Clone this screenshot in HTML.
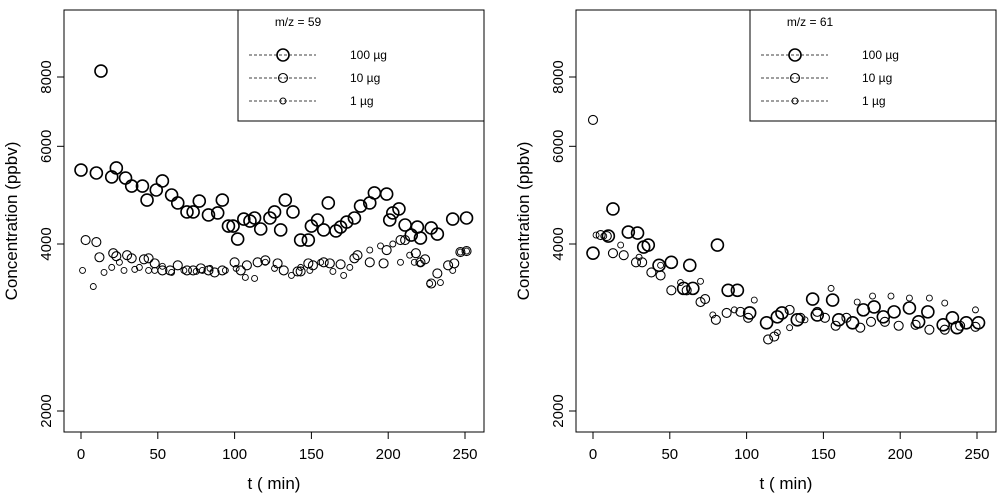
<!DOCTYPE html>
<html><head><meta charset="utf-8"><style>
body{margin:0;background:#fff;}
svg{display:block;font-family:"Liberation Sans",Arial,sans-serif;}
</style></head><body>
<svg id="chart" width="1000" height="497" viewBox="0 0 1000 497"></svg>
<script>
// ---- data ----
const tickY = [2000, 4000, 6000, 8000];
const tickX = [0, 50, 100, 150, 200, 250];
const titles = ["m/z = 59", "m/z = 61"];
const legendLabels = ["100 µg", "10 µg", "1 µg"];

const L100t = [0,10,13,20,23,29,33,40,43,49,53,59,63,69,73,77,83,89,92,96,99,102,106,110,113,117,123,126,130,133,138,143,148,150,154,158,161,166,169,173,178,182,188,191,199,201,203,207,211,215,219,221,228,232,242,251];
const L100v = [5437,5371,8200,5283,5484,5260,5088,5088,4800,5005,5196,4902,4743,4569,4569,4780,4512,4551,4800,4310,4310,4083,4437,4400,4456,4257,4456,4569,4240,4800,4569,4066,4066,4310,4419,4240,4743,4223,4292,4382,4456,4683,4743,4945,4922,4419,4551,4627,4328,4151,4292,4100,4275,4168,4437,4456];
const L10t = [3,10,12,21,23,30,33,41,44,48,53,58,63,69,73,78,83,87,92,100,104,108,115,120,128,132,141,143,148,151,158,162,169,178,180,188,197,199,208,211,218,221,224,228,232,239,243,247,251];
const L10v = [4066,4033,3786,3851,3802,3818,3770,3754,3770,3691,3585,3585,3661,3585,3585,3615,3585,3555,3585,3707,3585,3661,3707,3738,3691,3585,3570,3570,3691,3661,3707,3691,3676,3770,3818,3707,3691,3900,4066,4066,3851,3707,3754,3395,3540,3661,3691,3868,3884];
const L1t = [1,8,15,20,25,28,35,38,44,48,53,59,67,75,79,84,94,101,107,113,120,126,137,143,149,156,164,171,175,188,195,203,208,214,217,221,227,234,242,247,251];
const L1v = [3585,3353,3555,3630,3707,3585,3600,3630,3585,3585,3646,3555,3585,3570,3585,3615,3585,3615,3481,3467,3707,3615,3511,3630,3585,3707,3570,3511,3630,3900,3968,4000,3707,3818,3707,3691,3395,3409,3585,3868,3884];

const R100t = [0,10,13,23,29,33,36,43,51,59,63,65,81,88,94,102,113,120,123,133,143,146,156,160,169,176,183,189,196,206,212,218,228,234,237,243,251];
const R100v = [3851,4134,4627,4203,4186,3950,3983,3661,3707,3327,3661,3327,3983,3300,3300,3005,2884,2956,3005,2920,3183,2980,3170,2920,2884,3043,3080,2956,3018,3067,2896,3018,2860,2944,2826,2884,2884];
const R10t = [0,5,9,13,20,28,32,38,44,51,61,70,73,80,87,96,101,114,118,128,135,146,151,158,165,174,181,190,199,210,219,229,239,249];
const R10v = [6693,4151,4134,3851,3818,3707,3707,3555,3511,3300,3300,3144,3183,2920,3005,3018,2944,2692,2724,3043,2944,3018,2944,2849,2944,2826,2896,2896,2849,2860,2803,2803,2849,2837];
const R1t = [2,7,18,30,44,57,70,78,92,105,120,128,138,155,172,182,194,206,219,229,249];
const R1v = [4151,4134,3983,3786,3661,3409,3426,2980,3043,3170,2769,2826,2920,3327,3144,3222,3222,3196,3196,3131,3043];

const NS = "http://www.w3.org/2000/svg";
const svgEl = document.getElementById('chart');
function mk(tag, attrs, parent){const e=document.createElementNS(NS,tag);for(const k in attrs)e.setAttribute(k,attrs[k]);(parent||svgEl).appendChild(e);return e;}

const plotTop=10, plotBot=432;
function yScale(v){return 244 - 167*Math.log2(v/4000);}
const sizes=[{r:6,w:1.6},{r:4.5,w:1.1},{r:3,w:0.9}];

function panel(x0, title, series, idx){
  const g = mk('g',{});
  
  
  const xScale = t => x0+17 + t*1.536;
  const box = mk('rect',{x:x0,y:plotTop,width:420,height:plotBot-plotTop,fill:'none',stroke:'#000','stroke-width':1},g);
  
  
  tickY.forEach(v=>{
    const y=yScale(v);
    mk('line',{x1:x0-7,x2:x0,y1:y,y2:y,stroke:'#000'},g);
    const t=mk('text',{x:x0-13,y:y,'font-size':15,'text-anchor':'middle',transform:`rotate(-90 ${x0-13} ${y})`},g);
    t.textContent=v;
    
    
  });
  tickX.forEach(v=>{
    const x=xScale(v);
    mk('line',{x1:x,x2:x,y1:plotBot,y2:plotBot+7,stroke:'#000'},g);
    const t=mk('text',{x:x,y:plotBot+27,'font-size':15,'text-anchor':'middle'},g);
    t.textContent=v;
    
    
  });
  const xt=mk('text',{x:x0+210,y:489,'font-size':17,'text-anchor':'middle'},g);
  xt.textContent='t ( min)';
  
  
  const yt=mk('text',{x:x0-47,y:221,'font-size':17,'text-anchor':'middle',transform:`rotate(-90 ${x0-47} 221)`},g);
  yt.textContent='Concentration (ppbv)';
  
  
  series.forEach((s,si)=>{
    s[0].forEach((t,i)=>{
      const c=mk('circle',{cx:xScale(t),cy:yScale(s[1][i]),r:sizes[si].r,fill:'none',stroke:'#000','stroke-width':sizes[si].w},g);
      
      
    });
  });
  const lx=x0+174;
  const lg=mk('g',{},g);
  
  
  mk('rect',{x:lx,y:plotTop,width:246,height:111,fill:'#fff',stroke:'#000'},lg);
  const lt=mk('text',{x:lx+60,y:26,'font-size':12,'text-anchor':'middle'},lg);
  lt.textContent=title;
  
  
  legendLabels.forEach((lab,i)=>{
    const y=55+i*23;
    mk('line',{x1:lx+11,x2:lx+78,y1:y,y2:y,stroke:'#000','stroke-dasharray':'3,2','stroke-width':0.8},lg);
    mk('circle',{cx:lx+45,cy:y,r:sizes[i].r,fill:'none',stroke:'#000','stroke-width':sizes[i].w},lg);
    const tx=mk('text',{x:lx+112,y:y+4,'font-size':12},lg);
    tx.textContent=lab;
    
    
  });
}
panel(64, titles[0], [[L100t,L100v],[L10t,L10v],[L1t,L1v]], 0);
panel(576, titles[1], [[R100t,R100v],[R10t,R10v],[R1t,R1v]], 1);
</script>
</body></html>
